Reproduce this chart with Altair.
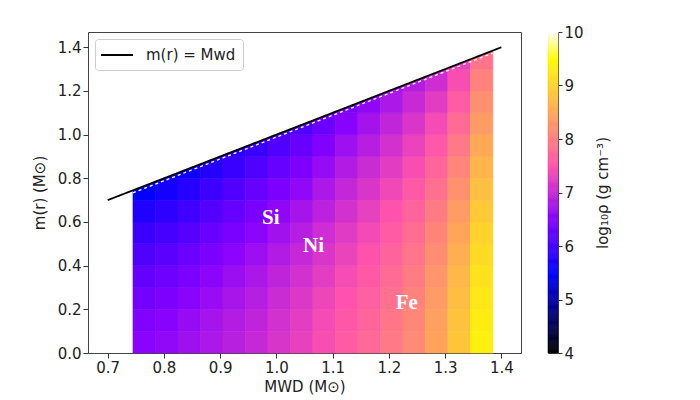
import altair as alt
import pandas as pd

# ---- data ----
MWD_EDGES = [0.745, 0.785, 0.825, 0.865, 0.905, 0.945, 0.985, 1.025, 1.065,
             1.105, 1.145, 1.185, 1.225, 1.265, 1.305, 1.345, 1.385]
M_EDGES = [0.0, 0.1, 0.2, 0.3, 0.4, 0.5, 0.6, 0.7, 0.8, 0.9, 1.0, 1.1, 1.2, 1.3, 1.4]

# log10 rho per MWD column (bottom -> top, one value per 0.1 Msun of m(r))
LOGRHO = [
    [6.54, 6.47, 6.37, 6.25, 6.10, 5.93, 5.74, 5.53],
    [6.59, 6.53, 6.44, 6.32, 6.19, 6.03, 5.85, 5.66, 5.55],
    [6.69, 6.63, 6.54, 6.43, 6.30, 6.15, 5.98, 5.79, 5.60],
    [6.79, 6.74, 6.65, 6.55, 6.43, 6.29, 6.13, 5.96, 5.77, 5.70],
    [6.89, 6.84, 6.76, 6.67, 6.55, 6.42, 6.27, 6.11, 5.94, 5.80],
    [6.99, 6.94, 6.87, 6.78, 6.68, 6.55, 6.41, 6.27, 6.10, 5.93],
    [7.14, 7.09, 7.03, 6.94, 6.83, 6.71, 6.58, 6.43, 6.27, 6.10, 6.00],
    [7.29, 7.25, 7.18, 7.09, 6.99, 6.87, 6.74, 6.59, 6.44, 6.27, 6.10],
    [7.44, 7.40, 7.34, 7.25, 7.16, 7.05, 6.92, 6.79, 6.64, 6.48, 6.31, 6.25],
    [7.59, 7.55, 7.49, 7.42, 7.32, 7.22, 7.10, 6.97, 6.83, 6.69, 6.53, 6.40],
    [7.74, 7.70, 7.65, 7.57, 7.49, 7.39, 7.28, 7.16, 7.03, 6.88, 6.73, 6.58],
    [7.94, 7.91, 7.85, 7.78, 7.69, 7.59, 7.49, 7.37, 7.24, 7.10, 6.95, 6.79, 6.70],
    [8.14, 8.11, 8.05, 7.98, 7.90, 7.80, 7.69, 7.57, 7.44, 7.31, 7.16, 7.00, 6.85],
    [8.44, 8.40, 8.34, 8.27, 8.18, 8.08, 7.96, 7.84, 7.70, 7.56, 7.40, 7.24, 7.06, 7.00],
    [8.84, 8.80, 8.74, 8.67, 8.57, 8.47, 8.35, 8.23, 8.09, 7.94, 7.78, 7.61, 7.44, 7.30],
    [9.34, 9.31, 9.25, 9.18, 9.10, 9.00, 8.89, 8.77, 8.65, 8.51, 8.36, 8.21, 8.05, 7.88],
]

LINE_X = [0.7, 1.4]
LINE_Y = [0.7, 1.4]
EDGE_X = [0.745, 1.385]
EDGE_Y = [0.745, 1.385]
LINE_NAME = "m(r) = Mwd"

LABEL_TEXT = ["Si", "Ni", "Fe"]
LABEL_X = [0.99, 1.066, 1.232]
LABEL_Y = [0.62, 0.49, 0.23]

X_TICKS = [0.7, 0.8, 0.9, 1.0, 1.1, 1.2, 1.3, 1.4]
Y_TICKS = [0.0, 0.2, 0.4, 0.6, 0.8, 1.0, 1.2, 1.4]
CBAR_TICKS = [4, 5, 6, 7, 8, 9, 10]

# gnuplot2-like colour map on 4..10
CMAP_DOMAIN = [4.0, 4.5, 5.0, 5.5, 6.0, 6.5, 7.0, 7.5, 8.0, 8.5, 9.0, 9.5, 10.0]
CMAP_RANGE = ["#000000", "#000055", "#0000aa", "#0000ff", "#4200ff", "#8500ff",
              "#c729d6", "#ff53ac", "#ff7e81", "#ffa857", "#ffd32c", "#fffd02", "#ffffff"]

# ---- tables ----
rows = []
for i, col in enumerate(LOGRHO):
    for j, v in enumerate(col):
        rows.append({"x": MWD_EDGES[i], "x2": MWD_EDGES[i + 1],
                     "y": M_EDGES[j], "y2": M_EDGES[j + 1], "v": v})
heat_df = pd.DataFrame(rows)
line_df = pd.DataFrame({"x": LINE_X, "y": LINE_Y, "name": [LINE_NAME] * len(LINE_X)})
edge_df = pd.DataFrame({"x": EDGE_X, "y": EDGE_Y})
label_df = pd.DataFrame({"x": LABEL_X, "y": LABEL_Y, "t": LABEL_TEXT})

cscale = alt.Scale(domain=CMAP_DOMAIN, range=CMAP_RANGE, interpolate="rgb")
xscale = alt.Scale(domain=[0.665, 1.435], nice=False, zero=False)
yscale = alt.Scale(domain=[0.0, 1.47], nice=False, zero=False)

xaxis = alt.Axis(values=X_TICKS, format=".1f", title="MWD (M⊙)", titlePadding=4)
yaxis = alt.Axis(values=Y_TICKS, format=".1f", title="m(r) (M⊙)", titlePadding=10)

heat = alt.Chart(heat_df).mark_rect(strokeWidth=0.6).encode(
    x=alt.X("x:Q", scale=xscale, axis=xaxis),
    x2="x2:Q",
    y=alt.Y("y:Q", scale=yscale, axis=yaxis),
    y2="y2:Q",
    color=alt.Color("v:Q", scale=cscale, legend=None),
    stroke=alt.Stroke("v:Q", scale=cscale, legend=None),
)

mask = alt.Chart(line_df).mark_area(color="white", opacity=1).encode(
    x=alt.X("x:Q", scale=xscale),
    y=alt.Y("y:Q", scale=yscale),
    y2=alt.datum(1.45),
)

edge = alt.Chart(edge_df).mark_line(color="white", strokeDash=[3, 3], strokeWidth=1.3, yOffset=2.5).encode(
    x=alt.X("x:Q", scale=xscale),
    y=alt.Y("y:Q", scale=yscale),
)

line = alt.Chart(line_df).mark_line(strokeWidth=1.8, color="black").encode(
    x=alt.X("x:Q", scale=xscale),
    y=alt.Y("y:Q", scale=yscale),
    strokeDash=alt.StrokeDash("name:N", scale=alt.Scale(domain=[LINE_NAME], range=[[1, 0]]),
                              legend=alt.Legend(title=None, orient="top-left", offset=7,
                                                padding=7, fillColor="white", strokeColor="#cccccc",
                                                cornerRadius=3, symbolType="M-1.25,0H2.75",
                                                symbolSize=256,
                                                symbolStrokeWidth=2, symbolStrokeColor="black",
                                                labelFontSize=15,
                                                labelFont="DejaVu Sans", labelOffset=26,
                                                labelColor="#222222")),
)

labels = alt.Chart(label_df).mark_text(font="Liberation Serif", fontWeight="bold",
                                       fontSize=21, color="white").encode(
    x=alt.X("x:Q", scale=xscale),
    y=alt.Y("y:Q", scale=yscale),
    text="t:N",
)

main = alt.layer(heat, mask, edge, line, labels).properties(width=433, height=321)

cbar = alt.Chart(alt.sequence(4, 10, 0.02, as_="v")).transform_calculate(
    v2="datum.v + 0.02"
).mark_rect(strokeWidth=0.6).encode(
    x=alt.value(0),
    x2=alt.value(10),
    y=alt.Y("v:Q", scale=alt.Scale(domain=[4, 10], nice=False, zero=False),
            axis=alt.Axis(orient="right", values=CBAR_TICKS, format="d",
                          title="log₁₀ρ (g cm⁻³)", titleAngle=270, titleBaseline="top",
                          titlePadding=12, tickSize=4)),
    y2="v2:Q",
    color=alt.Color("v:Q", scale=cscale, legend=None),
    stroke=alt.Stroke("v:Q", scale=cscale, legend=None),
).properties(width=10, height=321)

chart = alt.hconcat(main, cbar, spacing=25).resolve_scale(color="shared", stroke="shared").properties(
    padding={"left": 23, "top": 16, "right": 5, "bottom": 5}
).configure_view(stroke="#444444", strokeWidth=1).configure_axis(
    labelFont="DejaVu Sans", titleFont="DejaVu Sans", labelFontSize=15, titleFontSize=15,
    labelColor="#222222", titleColor="#222222", titleFontWeight="normal",
    grid=False, domain=False, tickColor="#333333", tickSize=5,
)

chart.save("out.html", embed_options={"renderer": "svg", "actions": False})
